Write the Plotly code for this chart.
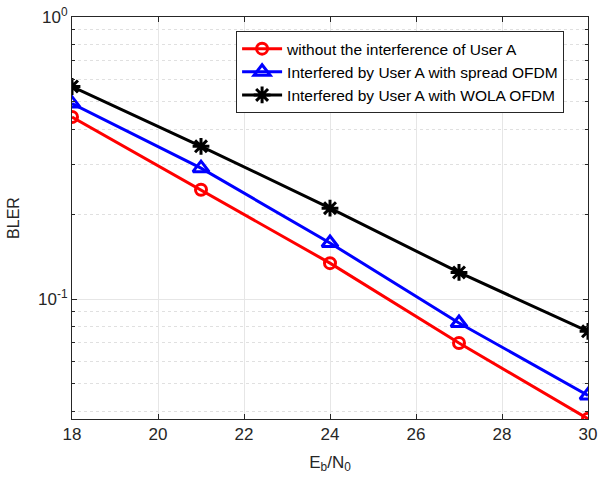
import plotly.graph_objects as go

ebn0 = [18, 21, 24, 27, 30]
bler_no_interf = [0.442, 0.244, 0.134, 0.0698, 0.0376]
bler_spread = [0.493, 0.291, 0.158, 0.0822, 0.0455]
bler_wola = [0.567, 0.348, 0.210, 0.1242, 0.0768]
names = ["without the interference of User A",
         "Interfered by User A with spread OFDM",
         "Interfered by User A with WOLA OFDM"]

fig = go.Figure()
styles = [("#ff0000", "circle-open", 11), ("#0000ff", "triangle-up-open", 14), ("#000000", "asterisk-open", 14)]
for ys, nm, (c, sym, sz) in zip([bler_no_interf, bler_spread, bler_wola], names, styles):
    fig.add_trace(go.Scatter(x=ebn0, y=ys, name=nm, mode="lines+markers",
                             line=dict(color=c, width=3),
                             marker=dict(symbol=sym, size=sz, color=c, line=dict(color=c, width=3))))

axcol = "#262626"
fig.update_layout(
    width=598, height=478,
    margin=dict(l=72, r=10, t=17, b=59, autoexpand=False),
    paper_bgcolor="white", plot_bgcolor="white",
    font=dict(family="Liberation Sans, Arial, sans-serif", color=axcol, size=15),
    showlegend=True,
    legend=dict(x=0.318, y=0.965, xanchor="left", yanchor="top",
                bgcolor="white", bordercolor="#262626", borderwidth=1,
                font=dict(size=15.5, color="#000000"), tracegroupgap=0,
                itemwidth=40),
)
fig.update_xaxes(range=[18, 30], tickvals=[18, 20, 22, 24, 26, 28, 30],
                 automargin=False,
                 showline=True, linecolor=axcol, linewidth=1, mirror="allticks",
                 ticks="inside", ticklen=5, tickcolor=axcol,
                 showgrid=True, gridcolor="#e6e6e6", gridwidth=1,
                 zeroline=False, tickfont=dict(size=17),
                 title=dict(text="E<sub>b</sub>/N<sub>0</sub>", font=dict(size=17), standoff=12))
minor_vals = [0.04, 0.05, 0.06, 0.07, 0.08, 0.09, 0.2, 0.3, 0.4, 0.5, 0.6, 0.7, 0.8, 0.9]
fig.update_yaxes(type="log", range=[-1.4255, 0],
                 automargin=False,
                 tickvals=[0.1, 1], ticktext=["10<sup>-1</sup>", "10<sup>0</sup>"],
                 showline=True, linecolor=axcol, linewidth=1, mirror="allticks",
                 ticks="inside", ticklen=5, tickcolor=axcol,
                 showgrid=True, gridcolor="#e6e6e6", gridwidth=1,
                 zeroline=False, tickfont=dict(size=17),
                 minor=dict(tickmode="array", tickvals=minor_vals, ticks="inside", ticklen=3,
                            tickcolor=axcol, showgrid=True, gridcolor="#e0e0e0", griddash="dot", gridwidth=1),
                 title=dict(text="BLER", font=dict(size=16), standoff=14))

fig.write_html("out.html")
